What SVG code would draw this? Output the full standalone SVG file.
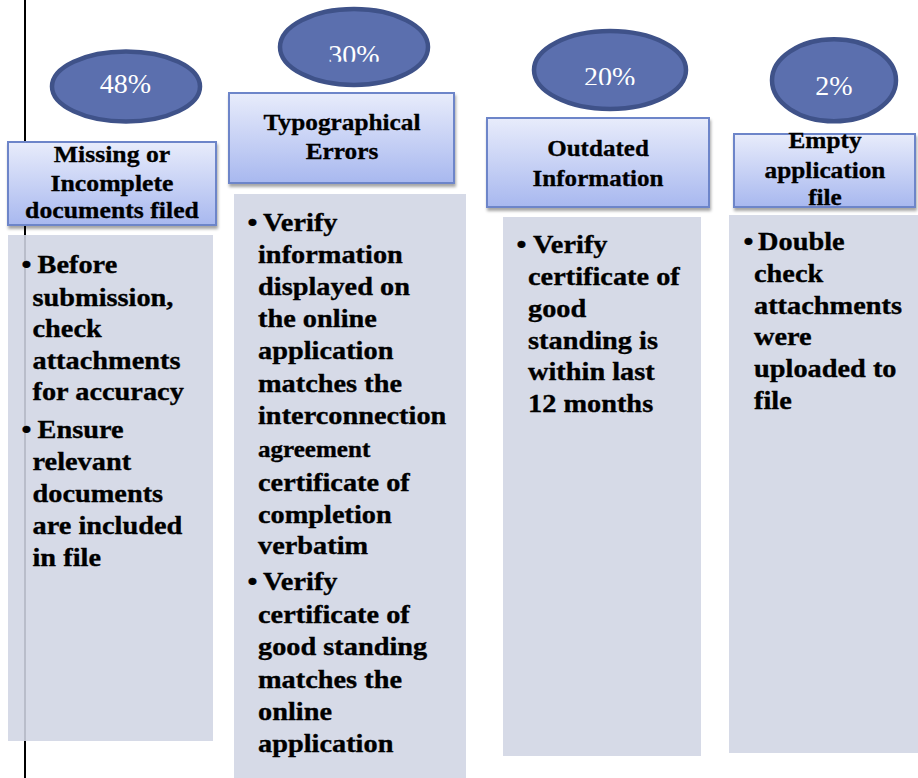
<svg xmlns="http://www.w3.org/2000/svg" width="918" height="778" viewBox="0 0 918 778">
<style>
.pct{font-family:"Liberation Serif","Times New Roman",serif;font-size:28px;fill:#ffffff;text-anchor:middle}
.hdr{font-family:"Liberation Serif","Times New Roman",serif;font-weight:bold;font-size:23px;text-anchor:middle;fill:#000;stroke:#000;stroke-width:0.3px}
.body{font-family:"Liberation Serif","Times New Roman",serif;font-weight:bold;font-size:26px;fill:#000;stroke:#000;stroke-width:0.35px}
.small{font-size:23px}
.oval{fill:#5b6fae;stroke:#3f5289;stroke-width:4.5}
.hbox{fill:url(#hg);stroke:#6d85c9;stroke-width:2;filter:url(#sh)}
.gbox{fill:#d1d5e4;fill-opacity:0.886}
</style>
<defs>
<linearGradient id="hg" x1="0" y1="0" x2="0" y2="1">
<stop offset="0" stop-color="#e8ecfb"/>
<stop offset="1" stop-color="#a8b8ef"/>
</linearGradient>
<filter id="sh" x="-10%" y="-10%" width="130%" height="140%">
<feDropShadow dx="1" dy="3" stdDeviation="1.5" flood-color="#000" flood-opacity="0.35"/>
</filter>
<clipPath id="c30"><rect x="280" y="0" width="150" height="61.7"/></clipPath>
<clipPath id="c20"><rect x="535" y="30" width="150" height="55"/></clipPath>
</defs>
<rect x="0" y="0" width="918" height="778" fill="#ffffff"/>
<line x1="25" y1="0" x2="25" y2="778" stroke="#000" stroke-width="2"/>
<g id="connectors"/>

<g id="pct-missing">
<ellipse class="oval" cx="126" cy="86.5" rx="74" ry="35"/>
<text class="pct" x="125.5" y="92.7">48%</text>
</g>
<g id="hdr-missing">
<rect class="hbox" x="8" y="142" width="208" height="83"/>
<text class="hdr" transform="translate(112,162) scale(1.12,1)">Missing or</text>
<text class="hdr" transform="translate(112,191) scale(1.12,1)">Incomplete</text>
<text class="hdr" transform="translate(112,218) scale(1.12,1)">documents filed</text>
</g>
<g id="body-missing">
<rect class="gbox" x="8" y="235" width="205" height="506"/>
<text class="body" transform="translate(21.5,273) scale(1.09,1)">•</text>
<text class="body" transform="translate(37.5,273) scale(1.09,1)">Before</text>
<text class="body" transform="translate(32.5,305.5) scale(1.09,1)">submission,</text>
<text class="body" transform="translate(32.5,337) scale(1.09,1)">check</text>
<text class="body" transform="translate(32.5,368.5) scale(1.09,1)">attachments</text>
<text class="body" transform="translate(32.5,400) scale(1.09,1)">for accuracy</text>
<text class="body" transform="translate(21.5,438) scale(1.09,1)">•</text>
<text class="body" transform="translate(37.5,438) scale(1.09,1)">Ensure</text>
<text class="body" transform="translate(32.5,470) scale(1.09,1)">relevant</text>
<text class="body" transform="translate(32.5,502) scale(1.09,1)">documents</text>
<text class="body" transform="translate(32.5,534) scale(1.09,1)">are included</text>
<text class="body" transform="translate(32.5,566) scale(1.09,1)">in file</text>
</g>

<g id="pct-typo">
<ellipse class="oval" cx="354" cy="47" rx="74" ry="38"/>
<text class="pct" x="354" y="63.5" clip-path="url(#c30)">30%</text>
</g>
<g id="hdr-typo">
<rect class="hbox" x="229" y="93" width="225" height="90"/>
<text class="hdr" transform="translate(342,130) scale(1.1,1)">Typographical</text>
<text class="hdr" transform="translate(342,159) scale(1.1,1)">Errors</text>
</g>
<g id="body-typo">
<rect class="gbox" x="234" y="194" width="232" height="590"/>
<text class="body" transform="translate(247.5,231) scale(1.09,1)">•</text>
<text class="body" transform="translate(263,231) scale(1.09,1)">Verify</text>
<text class="body" transform="translate(258,263) scale(1.09,1)">information</text>
<text class="body" transform="translate(258,295) scale(1.09,1)">displayed on</text>
<text class="body" transform="translate(258,327) scale(1.09,1)">the online</text>
<text class="body" transform="translate(258,359) scale(1.09,1)">application</text>
<text class="body" transform="translate(258,391.5) scale(1.09,1)">matches the</text>
<text class="body" transform="translate(258,424) scale(1.09,1)">interconnection</text>
<text class="body small" transform="translate(258,456.5) scale(1.09,1)">agreement</text>
<text class="body" transform="translate(258,490.5) scale(1.09,1)">certificate of</text>
<text class="body" transform="translate(258,522.5) scale(1.09,1)">completion</text>
<text class="body" transform="translate(258,554) scale(1.09,1)">verbatim</text>
<text class="body" transform="translate(247.5,590) scale(1.09,1)">•</text>
<text class="body" transform="translate(263,590) scale(1.09,1)">Verify</text>
<text class="body" transform="translate(258,623) scale(1.09,1)">certificate of</text>
<text class="body" transform="translate(258,655) scale(1.09,1)">good standing</text>
<text class="body" transform="translate(258,688) scale(1.09,1)">matches the</text>
<text class="body" transform="translate(258,720) scale(1.09,1)">online</text>
<text class="body" transform="translate(258,752) scale(1.09,1)">application</text>
</g>

<g id="pct-outdated">
<ellipse class="oval" cx="610" cy="70" rx="76" ry="39"/>
<text class="pct" x="609.7" y="86" clip-path="url(#c20)">20%</text>
</g>
<g id="hdr-outdated">
<rect class="hbox" x="487" y="118" width="222" height="89"/>
<text class="hdr" transform="translate(598,156) scale(1.09,1)">Outdated</text>
<text class="hdr" transform="translate(598,186) scale(1.09,1)">Information</text>
</g>
<g id="body-outdated">
<rect class="gbox" x="503" y="217" width="198" height="539"/>
<text class="body" transform="translate(516.5,253) scale(1.09,1)">•</text>
<text class="body" transform="translate(533,253) scale(1.09,1)">Verify</text>
<text class="body" transform="translate(528,285) scale(1.09,1)">certificate of</text>
<text class="body" transform="translate(528,317) scale(1.09,1)">good</text>
<text class="body" transform="translate(528,348.5) scale(1.09,1)">standing is</text>
<text class="body" transform="translate(528,380) scale(1.09,1)">within last</text>
<text class="body" transform="translate(528,412) scale(1.09,1)">12 months</text>
</g>

<g id="pct-empty">
<ellipse class="oval" cx="834" cy="80.3" rx="62" ry="41"/>
<text class="pct" x="834" y="95">2%</text>
</g>
<g id="hdr-empty">
<rect class="hbox" x="734" y="134" width="181" height="73"/>
<text class="hdr" transform="translate(825,148) scale(1.1,1)">Empty</text>
<text class="hdr" transform="translate(825,178) scale(1.1,1)">application</text>
<text class="hdr" transform="translate(825,205) scale(1.1,1)">file</text>
</g>
<g id="body-empty">
<rect class="gbox" x="729" y="215" width="195" height="538"/>
<text class="body" transform="translate(743.5,250) scale(1.09,1)">•</text>
<text class="body" transform="translate(758,250) scale(1.09,1)">Double</text>
<text class="body" transform="translate(754,282) scale(1.09,1)">check</text>
<text class="body" transform="translate(754,313.5) scale(1.09,1)">attachments</text>
<text class="body" transform="translate(754,345) scale(1.09,1)">were</text>
<text class="body" transform="translate(754,377) scale(1.09,1)">uploaded to</text>
<text class="body" transform="translate(754,408.5) scale(1.09,1)">file</text>
</g>
</svg>
